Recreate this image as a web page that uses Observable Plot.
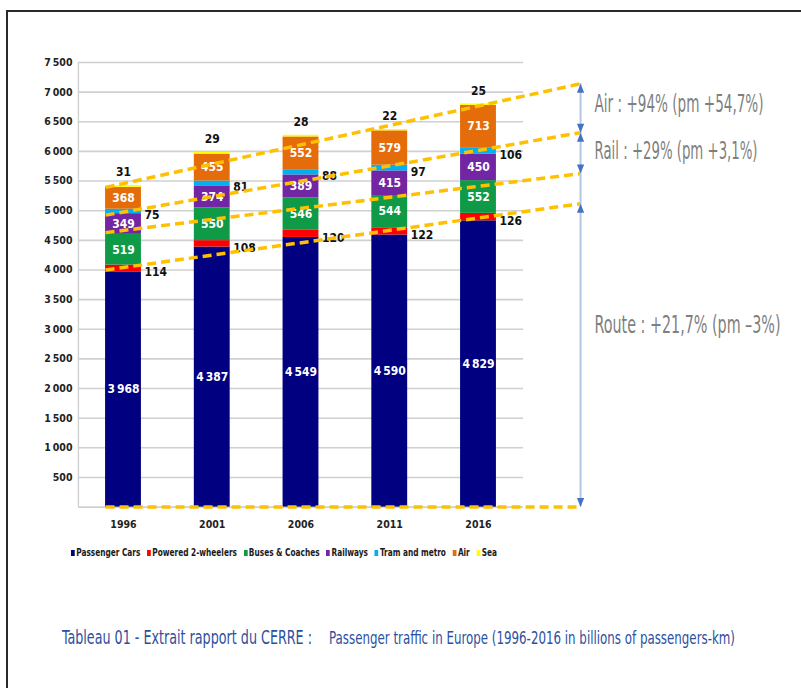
<!DOCTYPE html>
<html><head><meta charset="utf-8">
<script src="https://cdn.jsdelivr.net/npm/d3@7"></script>
<script src="https://cdn.jsdelivr.net/npm/@observablehq/plot@0.6"></script>
<style>
html,body{margin:0;padding:0;background:#fff;}
#wrap{position:relative;width:801px;height:688px;overflow:hidden;background:#fff;font-family:'Liberation Sans Narrow','DejaVu Sans Condensed',sans-serif;}
#frameTop{position:absolute;left:6px;top:10px;width:795px;height:2px;background:#2a2a2a;}
#frameLeft{position:absolute;left:6px;top:10px;width:2px;height:678px;background:#2a2a2a;}
#chart{position:absolute;left:0;top:0;}
#legend{position:absolute;left:71px;top:546px;display:flex;gap:9px;white-space:nowrap;transform-origin:0 50%;font-weight:bold;font-size:11px;color:#1a1a1a;line-height:14px;}
#legend .it{display:flex;align-items:center;}
#legend .sw{display:inline-block;width:5px;height:6px;margin-right:2px;}
#caption{position:absolute;left:62px;top:624px;white-space:nowrap;color:#2c50a0;line-height:26px;}
#caption span{display:inline-block;transform-origin:0 50%;position:absolute;top:0;}
</style>
</head><body>
<div id="wrap">
  <div id="chart"></div>
  <div id="frameTop"></div><div id="frameLeft"></div>
  <div id="legend"></div>
  <div id="caption"></div>
</div>
<script>
// ---------- data ----------
const years = [1996, 2001, 2006, 2011, 2016];
const modes = ["Passenger Cars", "Powered 2-wheelers", "Buses & Coaches", "Railways", "Tram and metro", "Air", "Sea"];
const modeColors = ["#000080", "#ff0000", "#0f9a48", "#7326a3", "#00b0f0", "#e46c0a", "#ffff00"];
const passengerCars = [3968, 4387, 4549, 4590, 4829];
const powered2Wheelers = [114, 108, 120, 122, 126];
const busesCoaches = [519, 550, 546, 544, 552];
const railways = [349, 374, 389, 415, 450];
const tramMetro = [75, 81, 88, 97, 106];
const air = [368, 455, 552, 579, 713];
const sea = [31, 29, 28, 22, 25];
const yTicks = [500, 1000, 1500, 2000, 2500, 3000, 3500, 4000, 4500, 5000, 5500, 6000, 6500, 7000, 7500];
const gridValues = [0, 500, 1000, 1500, 2000, 2500, 3000, 3500, 4000, 4500, 5000, 5500, 6000, 6500, 7000, 7500];
// dashed trend lines: value at the left edge of the 1996 bar and at the arrow line
const trendStart = [5393, 4925, 4630, 4000, 0];
const trendEnd = [7142, 6317, 5626, 5118, 0];
const annotationLabels = ["Air : +94% (pm +54,7%)", "Rail : +29% (pm +3,1%)", "Route : +21,7% (pm \u20133%)"];
const annotationValues = [6800, 6010, 3065];
const captionTitle = "Tableau 01 - Extrait rapport du CERRE :";
const captionText = "Passenger traffic in Europe (1996-2016 in billions of passengers-km)";

// ---------- layout constants ----------
const FONT = "'Liberation Sans Narrow','DejaVu Sans Condensed',sans-serif";
const HALF_BAR = 1.01;           // in years
const FRAME_X0 = 1993.46, FRAME_X1 = 2018.54;
const LINE_X0 = 1996 - HALF_BAR, LINE_X1 = 2021.75;
const ANN_FONT = 17, ANN_SY = 24 / 17;
const annWidths = [169, 163, 186];

const series = [passengerCars, powered2Wheelers, busesCoaches, railways, tramMetro, air, sea];
const rows = years.flatMap((yr, i) => {
  let acc = 0;
  return series.map((vals, k) => {
    const v = vals[i];
    const r = {year: yr, mode: modes[k], value: v, y1: acc, y2: acc + v};
    acc += v;
    return r;
  });
});
const fmt = d => d3.format(",")(d).replace(/,/g, "\u202f");
const inside = rows.filter(d => ["Passenger Cars", "Buses & Coaches", "Railways", "Air"].includes(d.mode));
const rightSide = rows.filter(d => ["Powered 2-wheelers", "Tram and metro"].includes(d.mode));
const above = rows.filter(d => d.mode === "Sea");
const trends = trendStart.map((s, i) => ({s, e: trendEnd[i]}));
const ups = [trendEnd[0], trendEnd[1], trendEnd[3]];
const downs = [trendEnd[1], trendEnd[2], trendEnd[4]];
const upSym = {draw(c) { c.moveTo(0, 0); c.lineTo(3.6, 9); c.lineTo(-3.6, 9); c.closePath(); }};
const downSym = {draw(c) { c.moveTo(0, 0); c.lineTo(3.6, -9); c.lineTo(-3.6, -9); c.closePath(); }};

const plot = Plot.plot({
  width: 801, height: 688,
  marginLeft: 78, marginTop: 62, marginBottom: 181.4, marginRight: 278,
  style: {fontFamily: FONT, background: "transparent", overflow: "visible"},
  x: {domain: [1996, 2016], range: [123, 478]},
  y: {domain: [0, 7500]},
  color: {domain: modes, range: modeColors},
  marks: [
    Plot.ruleY(gridValues, {x1: FRAME_X0, x2: FRAME_X1, stroke: "#d0d0d0", strokeWidth: 1.6}),
    Plot.ruleX([FRAME_X0], {y1: 0, y2: 7500, stroke: "#d0d0d0", strokeWidth: 1.4}),
    Plot.rect(rows, {x1: d => d.year - HALF_BAR, x2: d => d.year + HALF_BAR, y1: "y1", y2: "y2", fill: "mode"}),
    Plot.axisY(yTicks, {tickSize: 0, tickPadding: 6, tickFormat: fmt, fontWeight: "bold", fontSize: 10.5, fill: "#222", label: null}),
    Plot.axisX(years, {tickSize: 0, tickPadding: 13, tickFormat: d => String(d), fontWeight: "bold", fontSize: 10.5, fill: "#222", label: null}),
    Plot.text(inside, {x: "year", y: d => (d.y1 + d.y2) / 2, text: d => fmt(d.value), fill: "white", fontWeight: "bold", fontSize: 12}),
    Plot.text(rightSide, {x: d => d.year + HALF_BAR, y: d => (d.y1 + d.y2) / 2, text: d => fmt(d.value), textAnchor: "start", dx: 3, dy: 4, fill: "#111", fontWeight: "bold", fontSize: 12}),
    Plot.text(above, {x: "year", y: "y2", text: d => fmt(d.value), dy: -13, fill: "#111", fontWeight: "bold", fontSize: 12}),
    Plot.link(trends, {x1: LINE_X0, x2: LINE_X1, y1: "s", y2: "e", stroke: "#ffc000", strokeWidth: 3.5, strokeDasharray: "9,5"}),
    Plot.ruleX([LINE_X1], {y1: 0, y2: trendEnd[0], stroke: "#b4c7e7", strokeWidth: 2}),
    Plot.dot(ups, {x: LINE_X1, y: d => d, symbol: upSym, fill: "#4472c4", stroke: "none", r: 4}),
    Plot.dot(downs, {x: LINE_X1, y: d => d, symbol: downSym, fill: "#4472c4", stroke: "none", r: 4}),
    Plot.text(annotationLabels, {x: LINE_X1, y: (d, i) => annotationValues[i], text: d => d, textAnchor: "start", dx: 14, fontSize: ANN_FONT, fill: "#7f7f7f"})
  ]
});
document.getElementById("chart").appendChild(plot);

// fit the annotation texts to the narrow, tall lettering of the reference
const yS = plot.scale("y");
plot.querySelectorAll("text").forEach(t => {
  const i = annotationLabels.indexOf(t.textContent);
  if (i >= 0) {
    t.setAttribute("textLength", annWidths[i]);
    t.setAttribute("lengthAdjust", "spacingAndGlyphs");
    const Y = yS.apply(annotationValues[i]);
    const g = document.createElementNS("http://www.w3.org/2000/svg", "g");
    g.setAttribute("transform", `translate(0,${Y}) scale(1,${ANN_SY}) translate(0,${-Y})`);
    t.parentNode.insertBefore(g, t);
    g.appendChild(t);
  }
});

// legend
const legend = document.getElementById("legend");
modes.forEach((m, i) => {
  const it = document.createElement("span"); it.className = "it";
  const sw = document.createElement("span"); sw.className = "sw"; sw.style.background = modeColors[i];
  it.appendChild(sw); it.appendChild(document.createTextNode(m));
  legend.appendChild(it);
});
const lw = legend.getBoundingClientRect().width;
legend.style.transform = `scaleX(${426 / lw})`;

// caption
const cap = document.getElementById("caption");
const s1 = document.createElement("span"); s1.textContent = captionTitle; s1.style.fontSize = "20px"; s1.style.left = "0px";
const s2 = document.createElement("span"); s2.textContent = captionText; s2.style.fontSize = "17px"; s2.style.left = "267px"; s2.style.top = "1px";
cap.appendChild(s1); cap.appendChild(s2);
const w1 = s1.getBoundingClientRect().width, w2 = s2.getBoundingClientRect().width;
s1.style.transform = `scaleX(${250 / w1})`;
s2.style.transform = `scaleX(${406 / w2})`;
</script>
</body></html>
